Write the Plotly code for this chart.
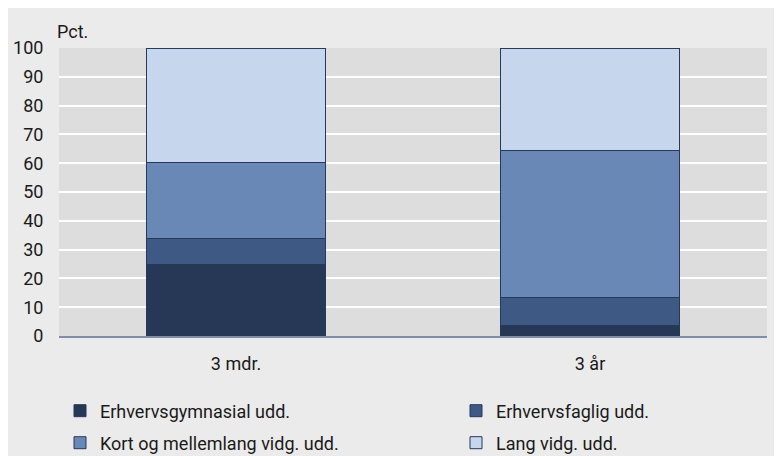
import plotly.graph_objects as go

categories = ["3 mdr.", "3 år"]
series_names = ["Erhvervsgymnasial udd.", "Erhvervsfaglig udd.",
                "Kort og mellemlang vidg. udd.", "Lang vidg. udd."]
erhvervsgymnasial = [25.0, 3.7]
erhvervsfaglig = [8.9, 9.5]
kort_mellemlang = [26.4, 51.3]
lang = [39.7, 35.5]
y_ticks = [0, 10, 20, 30, 40, 50, 60, 70, 80, 90, 100]

colors = ["#263856", "#3f5985", "#6a88b6", "#c6d6ec"]
values = [erhvervsgymnasial, erhvervsfaglig, kort_mellemlang, lang]
legend_ids = ["legend", "legend2", "legend3", "legend4"]

# page body has an 8px margin; figure coordinates = screen - 8
W, H = 774, 448
L, R, T, B = 51, 15, 40, 120
pw, ph = W - L - R, H - T - B

def px(x):
    return (x - L) / pw

def py(y):
    return (H - B - y) / ph

FONT = "Roboto, 'Open Sans', sans-serif"

fig = go.Figure()
for name, vals, col, lg in zip(series_names, values, colors, legend_ids):
    fig.add_trace(go.Bar(
        x=categories, y=vals, name=name, legend=lg,
        marker=dict(color=col, line=dict(color="#26395a", width=1)),
    ))

legend_pos = {"legend": (52, 403), "legend2": (448, 403),
              "legend3": (52, 435), "legend4": (448, 435)}
legend_layout = {}
for lg, (lx, ly) in legend_pos.items():
    legend_layout[lg] = dict(orientation="h", x=px(lx), xanchor="left", y=py(ly),
                             yanchor="middle", bgcolor="rgba(0,0,0,0)",
                             font=dict(size=18))

fig.update_layout(
    width=W, height=H,
    barmode="stack", bargap=0.497,
    margin=dict(l=L, r=R, t=T, b=B, autoexpand=False),
    paper_bgcolor="#ebebeb", plot_bgcolor="#dddddd",
    font=dict(family=FONT, size=18, color="#1a1a1a"),
    showlegend=True,
    xaxis=dict(showgrid=False, showline=True, linecolor="#7f8ea6", linewidth=2,
               ticks="outside", ticklen=10, tickcolor="rgba(0,0,0,0)"),
    yaxis=dict(range=[0, 100], tickvals=y_ticks, showgrid=True, gridcolor="white",
               gridwidth=2, zeroline=False, ticks="outside", ticklen=11,
               tickcolor="rgba(0,0,0,0)"),
    annotations=[dict(text="Pct.", xref="paper", yref="paper", x=px(47), y=py(24),
                      xanchor="left", yanchor="middle", showarrow=False,
                      font=dict(size=18))],
    **legend_layout,
)

fig.write_html("out.html")
